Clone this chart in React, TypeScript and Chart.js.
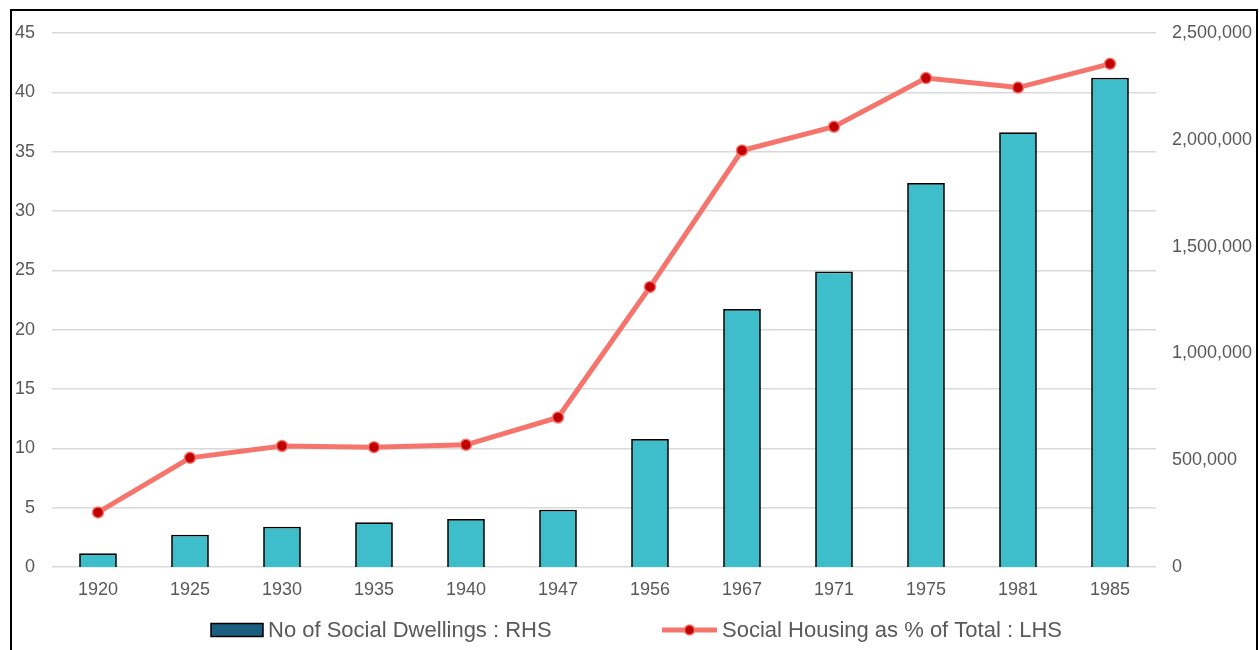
import React, { useEffect, useRef } from 'react';
import { Chart, registerables } from 'chart.js';

Chart.register(...registerables);

// ---- Data ----
const years = ['1920', '1925', '1930', '1935', '1940', '1947', '1956', '1967', '1971', '1975', '1981', '1985'];
const socialDwellings = [64000, 151000, 189000, 209000, 225000, 268000, 599000, 1208000, 1383000, 1798000, 2035000, 2291000];
const socialSharePct = [4.6, 9.2, 10.2, 10.1, 10.3, 12.6, 23.6, 35.1, 37.1, 41.2, 40.4, 42.4];

const leftAxisMax = 45;
const leftAxisStep = 5;
const rightAxisMax = 2500000;
const rightAxisStep = 500000;

const barLabel = 'No of Social Dwellings : RHS';
const lineLabel = 'Social Housing as % of Total : LHS';

// ---- Styles ----
const FONT = "'Liberation Sans', Arial, sans-serif";
const TEXT_COLOR = '#595959';
const BAR_COLOR = '#3EBDCA';
const BAR_LEGEND_COLOR = '#1B5E80';
const LINE_COLOR = '#F5756D';
const POINT_COLOR = '#C00000';
const GRID_COLOR = '#D9D9D9';

const bottomLegend = {
  id: 'bottomLegend',
  afterDraw(chart: any) {
    const { ctx } = chart;
    const ds = chart.data.datasets;
    const cy = 630;
    ctx.save();
    ctx.font = `22px ${FONT}`;
    ctx.textBaseline = 'middle';
    ctx.textAlign = 'left';

    // item 1: bar swatch
    const x1 = 211;
    ctx.fillStyle = BAR_LEGEND_COLOR;
    ctx.fillRect(x1, cy - 6.5, 52, 13);
    ctx.strokeStyle = '#000';
    ctx.lineWidth = 1.5;
    ctx.strokeRect(x1, cy - 6.5, 52, 13);
    ctx.fillStyle = TEXT_COLOR;
    ctx.fillText(ds[0].label, x1 + 57, cy + 1);

    // item 2: line with marker
    const x2 = 662;
    ctx.strokeStyle = LINE_COLOR;
    ctx.lineWidth = 5;
    ctx.beginPath();
    ctx.moveTo(x2, cy);
    ctx.lineTo(x2 + 55, cy);
    ctx.stroke();
    ctx.beginPath();
    ctx.arc(x2 + 27.5, cy, 5, 0, Math.PI * 2);
    ctx.fillStyle = POINT_COLOR;
    ctx.fill();
    ctx.lineWidth = 1.5;
    ctx.strokeStyle = LINE_COLOR;
    ctx.stroke();
    ctx.fillStyle = TEXT_COLOR;
    ctx.fillText(ds[1].label, x2 + 60, cy + 1);
    ctx.restore();
  },
};

export default function App() {
  const canvasRef = useRef<HTMLCanvasElement>(null);

  useEffect(() => {
    if (!canvasRef.current) return;
    const tickFont = { family: FONT, size: 18 };
    const chart = new Chart(canvasRef.current, {
      type: 'bar',
      data: {
        labels: years,
        datasets: [
          {
            type: 'bar',
            label: barLabel,
            data: socialDwellings,
            yAxisID: 'y1',
            backgroundColor: BAR_COLOR,
            borderColor: '#000000',
            borderWidth: 1.75,
            barPercentage: 0.41,
            categoryPercentage: 1,
            order: 2,
          },
          {
            type: 'line',
            label: lineLabel,
            data: socialSharePct,
            yAxisID: 'y',
            borderColor: LINE_COLOR,
            borderWidth: 5,
            pointRadius: 5.5,
            pointBackgroundColor: POINT_COLOR,
            pointBorderColor: LINE_COLOR,
            pointBorderWidth: 1.5,
            tension: 0,
            order: 1,
          },
        ],
      } as any,
      options: {
        responsive: false,
        animation: false,
        devicePixelRatio: 1,
        events: [],
        layout: { padding: { top: 33, bottom: 43, left: 0, right: 0 } },
        plugins: {
          legend: { display: false },
          tooltip: { enabled: false },
        },
        scales: {
          x: {
            grid: { display: false },
            border: { display: false },
            ticks: { font: tickFont, color: TEXT_COLOR, padding: 4 },
            afterFit(s: any) { s.height = 40; },
          },
          y: {
            position: 'left',
            min: 0,
            max: leftAxisMax,
            ticks: { stepSize: leftAxisStep, padding: 17, font: tickFont, color: TEXT_COLOR },
            grid: { color: GRID_COLOR, lineWidth: 1.5, drawTicks: false },
            border: { display: false },
            afterFit(s: any) { s.width = 52; },
          },
          y1: {
            position: 'right',
            min: 0,
            max: rightAxisMax,
            ticks: {
              stepSize: rightAxisStep,
              padding: 16,
              font: tickFont,
              color: TEXT_COLOR,
              callback: (v: any) => Number(v).toLocaleString('en-US'),
            },
            grid: { display: false, drawTicks: false },
            border: { display: false },
            afterFit(s: any) { s.width = 103; },
          },
        },
      } as any,
      plugins: [bottomLegend],
    });
    return () => chart.destroy();
  }, []);

  return (
    <div style={{ position: 'absolute', left: 0, top: 0, width: 1259, height: 650, background: '#ffffff', overflow: 'hidden' }}>
      <canvas ref={canvasRef} width={1259} height={650} style={{ display: 'block', width: 1259, height: 650 }} />
      <div
        style={{
          position: 'absolute',
          left: 10,
          top: 9,
          width: 1248,
          height: 641,
          boxSizing: 'border-box',
          borderTop: '2px solid #000',
          borderLeft: '2px solid #000',
          borderRight: '2px solid #000',
          pointerEvents: 'none',
        }}
      />
    </div>
  );
}
